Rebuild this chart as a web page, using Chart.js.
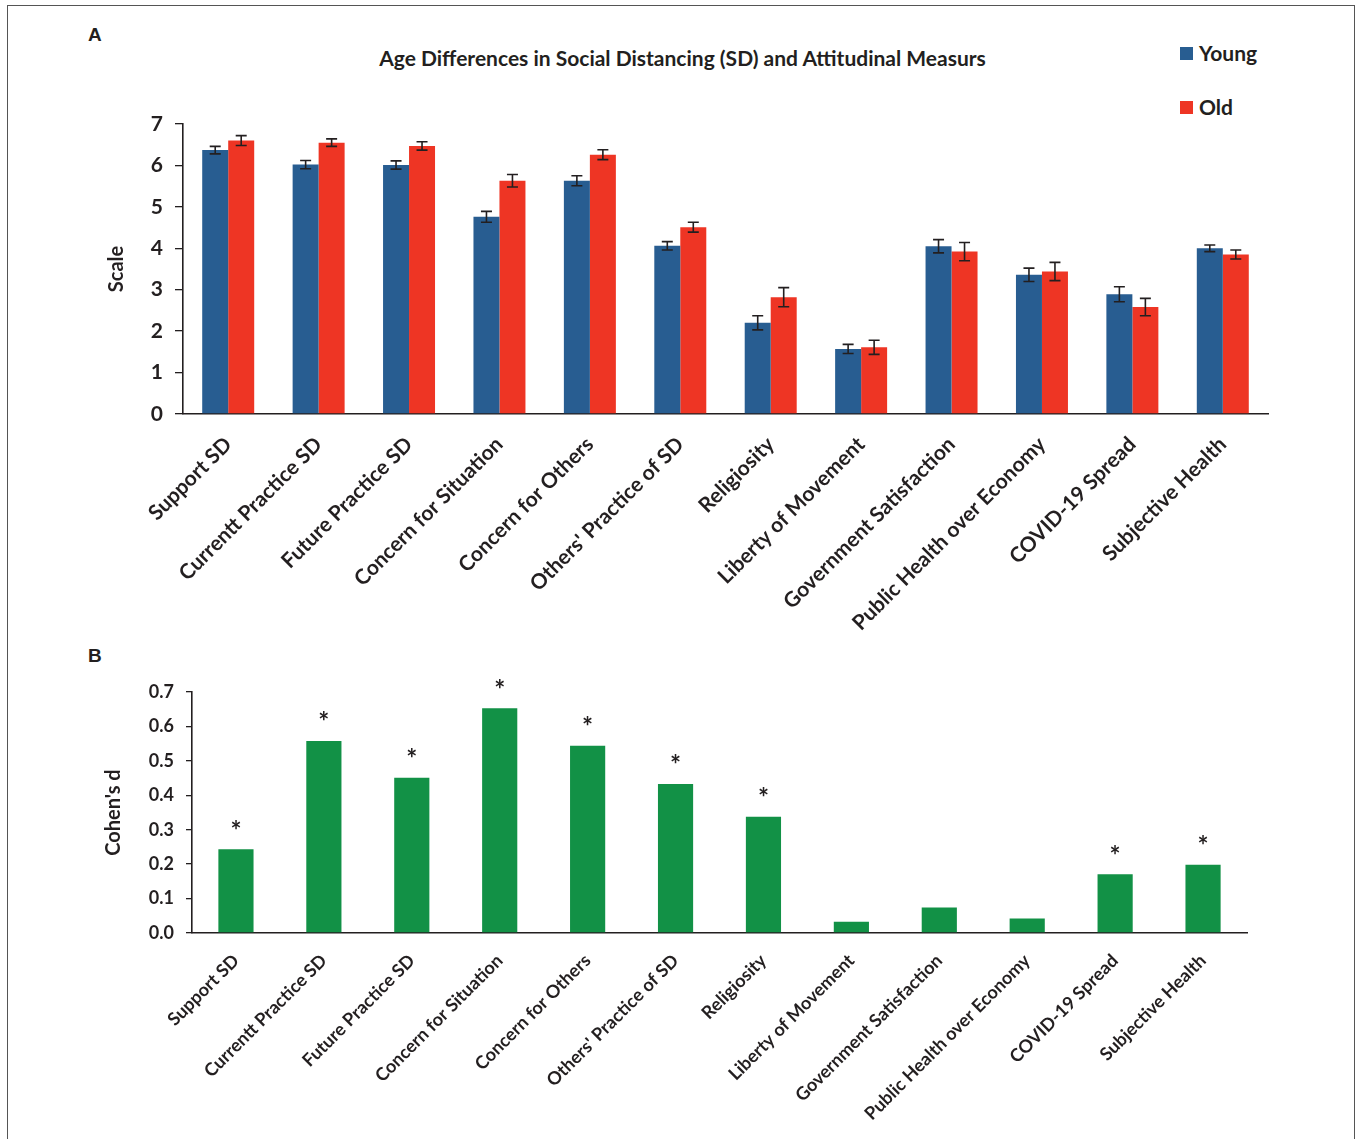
<!DOCTYPE html>
<html>
<head>
<meta charset="utf-8">
<script src="https://cdn.jsdelivr.net/npm/chart.js@4.4.1/dist/chart.umd.min.js"></script>
<style>
  body { margin: 0; background: #fff; width: 1357px; height: 1139px; overflow: hidden; position: relative; font-family: Lato, sans-serif; color: #231f20; }
  .frame { position: absolute; left: 7px; top: 5px; width: 1346px; height: 1200px; border: 1.5px solid #555; }
  .panel { position: absolute; font: bold 19px "Liberation Sans", Arial, sans-serif; color: #231f20; }
  .title { position: absolute; left: 0; width: 1357px; top: 45px; text-align: center; font: bold 21px Lato, sans-serif; padding-left: 4px; }
  .legend { position: absolute; left: 1180px; font: bold 21px Lato, sans-serif; }
  .legend span { display: inline-block; width: 13px; height: 13px; margin-right: 6px; vertical-align: 1px; }
  canvas { position: absolute; }
</style>
</head>
<body>
<div class="frame"></div>
<div class="panel" style="left:88px;top:24px">A</div>
<div class="panel" style="left:88px;top:645px">B</div>
<div class="title">Age Differences in Social Distancing (SD) and Attitudinal Measurs</div>
<div class="legend" style="top:40px"><span style="background:#285d91"></span>Young</div>
<div class="legend" style="top:94px"><span style="background:#ee3524"></span>Old</div>

<div style="position:absolute;left:101px;top:0;width:1256px;height:640px"><canvas id="chartA"></canvas></div>
<div style="position:absolute;left:98px;top:640px;width:1259px;height:499px"><canvas id="chartB"></canvas></div>

<script>
const categories = ["Support SD", "Currentt Practice SD", "Future Practice SD", "Concern for Situation",
    "Concern for Others", "Others' Practice of SD", "Religiosity", "Liberty of Movement",
    "Government Satisfaction", "Public Health over Economy", "COVID-19 Spread", "Subjective Health"]

const youngMeans = [6.37, 6.02, 6.01, 4.76, 5.63, 4.06, 2.20, 1.57, 4.05, 3.36, 2.89, 4.00]
const youngErrors = [0.09, 0.10, 0.10, 0.13, 0.12, 0.10, 0.17, 0.11, 0.16, 0.16, 0.18, 0.08]
const oldMeans = [6.60, 6.55, 6.47, 5.63, 6.26, 4.51, 2.82, 1.61, 3.92, 3.44, 2.58, 3.85]
const oldErrors = [0.12, 0.09, 0.10, 0.15, 0.12, 0.12, 0.23, 0.17, 0.22, 0.22, 0.21, 0.11]

const cohensD = [0.243, 0.558, 0.451, 0.653, 0.544, 0.433, 0.338, 0.033, 0.074, 0.042, 0.171, 0.198]
const significant = [true, true, true, true, true, true, true, false, false, false, true, true]

const ink = "#231f20"

const errorBarPlugin = {
    id: "errorBars",
    afterDatasetsDraw(chart, args, opts) {
        if (!opts.errors) return
        const ctx = chart.ctx
        const yScale = chart.scales.y
        ctx.save()
        ctx.strokeStyle = ink
        ctx.lineWidth = 1.6
        chart.data.datasets.forEach((ds, di) => {
            const meta = chart.getDatasetMeta(di)
            const errs = opts.errors[di]
            meta.data.forEach((bar, i) => {
                const top = yScale.getPixelForValue(ds.data[i] + errs[i])
                const bottom = yScale.getPixelForValue(ds.data[i] - errs[i])
                ctx.beginPath()
                ctx.moveTo(bar.x, top); ctx.lineTo(bar.x, bottom)
                ctx.moveTo(bar.x - 5.5, top); ctx.lineTo(bar.x + 5.5, top)
                ctx.moveTo(bar.x - 5.5, bottom); ctx.lineTo(bar.x + 5.5, bottom)
                ctx.stroke()
            })
        })
        ctx.restore()
    }
}

const starPlugin = {
    id: "stars",
    afterDatasetsDraw(chart, args, opts) {
        if (!opts.flags) return
        const ctx = chart.ctx
        const meta = chart.getDatasetMeta(0)
        ctx.save()
        ctx.fillStyle = ink
        ctx.font = "bold 26px Lato"
        ctx.textAlign = "center"
        ctx.textBaseline = "middle"
        meta.data.forEach((bar, i) => {
            if (opts.flags[i]) ctx.fillText("*", bar.x, bar.y - 18)
        })
        ctx.restore()
    }
}

const createChart = (chartId, datasets, yOptions, layout, xHeight, yWidth, xFont, xPad, plugins) => {
    const context = document.getElementById(chartId).getContext("2d")
    return new Chart(context, {
        type: "bar",
        data: { labels: categories, datasets: datasets },
        options: {
            responsive: true,
            maintainAspectRatio: false,
            animation: false,
            layout: { padding: layout },
            plugins: {
                legend: { display: false },
                tooltip: { enabled: false },
                ...plugins
            },
            scales: {
                x: {
                    grid: { display: false },
                    border: { display: true, color: ink, width: 1.6 },
                    ticks: { color: ink, font: { family: "Lato", weight: "bold", size: xFont },
                        minRotation: 45, maxRotation: 45, autoSkip: false, padding: xPad },
                    afterFit: (scale) => { scale.height = xHeight }
                },
                y: {
                    ...yOptions,
                    grid: { drawOnChartArea: false, drawTicks: true, tickLength: yOptions.tickLength, color: ink, lineWidth: 1.3 },
                    border: { display: true, color: ink, width: 1.6 },
                    afterFit: (scale) => { scale.width = yWidth }
                }
            }
        },
        plugins: [errorBarPlugin, starPlugin]
    })
}

createChart("chartA", [
    { label: "Young", data: youngMeans, backgroundColor: "#285d91", categoryPercentage: 0.575, barPercentage: 1 },
    { label: "Old", data: oldMeans, backgroundColor: "#ee3524", categoryPercentage: 0.575, barPercentage: 1 }
], {
    min: 0, max: 7, tickLength: 8,
    ticks: { stepSize: 1, color: ink, padding: 12, font: { family: "Lato", weight: "bold", size: 21 } },
    title: { display: true, text: "Scale", color: ink, font: { family: "Lato", weight: "bold", size: 20 } }
}, { top: 124, right: 89, left: 0, bottom: 0 }, 226, 82, 21, 10,
{ errorBars: { errors: [youngErrors, oldErrors] } })

createChart("chartB", [
    { label: "Cohen's d", data: cohensD, backgroundColor: "#129146", categoryPercentage: 0.4, barPercentage: 1 }
], {
    min: 0, max: 0.7, tickLength: 6,
    ticks: { stepSize: 0.1, color: ink, padding: 12, callback: (v) => v.toFixed(1),
        font: { family: "Lato", weight: "bold", size: 18 } },
    title: { display: true, text: "Cohen's d", color: ink, font: { family: "Lato", weight: "bold", size: 20 } }
}, { top: 52, right: 110, left: 0, bottom: 0 }, 206, 94, 18, 9,
{ stars: { flags: significant } })
</script>
</body>
</html>
